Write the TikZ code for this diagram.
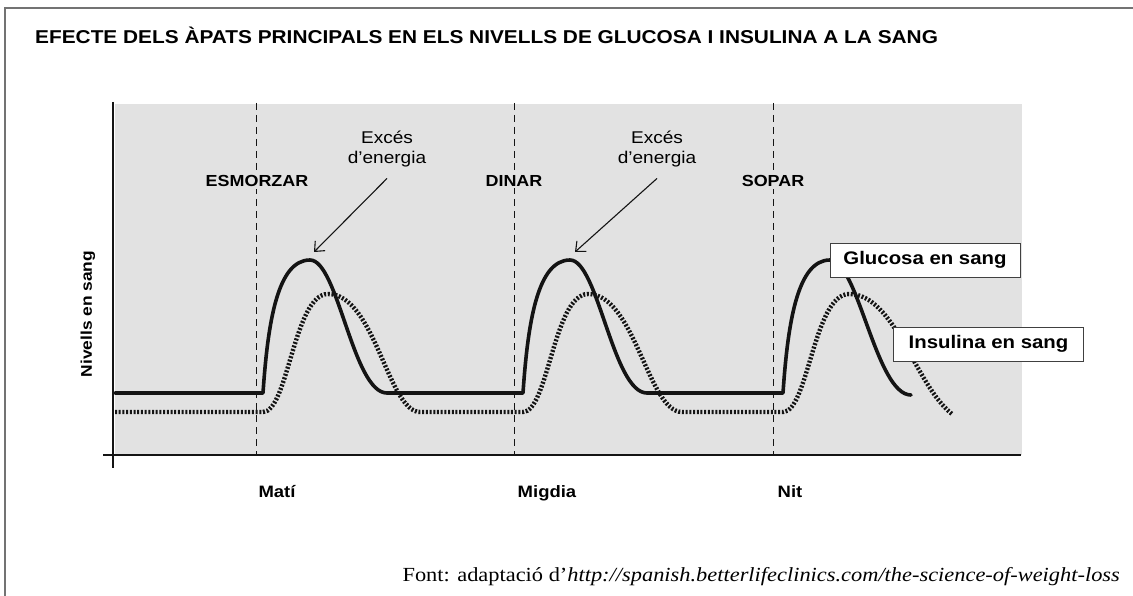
\documentclass[tikz,border=0pt]{standalone}
\usepackage{fontspec}
\setmainfont{Liberation Serif}
\newfontfamily\hv[FakeStretch=1.12]{Liberation Sans}
\newfontfamily\srcfont[FakeStretch=1.12]{Liberation Serif}
\usetikzlibrary{arrows.meta}
\definecolor{bg}{gray}{0.885}
\definecolor{ink}{gray}{0.08}
\tikzset{
  glu/.style={line width=3.6pt, ink, line join=round, line cap=round},
  ins/.style={line width=4.4pt, ink, dash pattern=on 2pt off 1.7pt},
  axisline/.style={line width=2.2pt, ink},
  mealline/.style={line width=0.9pt, ink, dash pattern=on 7pt off 5pt},
  meal/.style={font=\hv\bfseries\fontsize{16}{18}\selectfont, fill=bg, inner sep=1.5pt, anchor=base},
  note/.style={font=\hv\fontsize{17}{20}\selectfont, align=center, inner sep=0pt},
  arr/.style={line width=1.1pt, ink, -{Straight Barb[length=8pt,width=14pt,line width=1.1pt]}},
  legend/.style={font=\hv\bfseries\fontsize{18.2}{20}\selectfont, fill=white, draw=black!75, line width=0.9pt, minimum width=190pt, minimum height=34pt, inner sep=0pt},
  tick/.style={font=\hv\bfseries\fontsize{16.5}{18}\selectfont, anchor=base},
}
\begin{document}
\begin{tikzpicture}[x=1pt,y=-1pt]
\useasboundingbox (0,0) rectangle (1133,596);
% frame
\draw[black!55, line width=1.4pt] (5,596) -- (5,8) -- (1133,8);
% title
\node[anchor=base west, inner sep=0pt, font=\hv\bfseries\fontsize{18.6}{20}\selectfont] (title) at (35,44)
  {EFECTE DELS ÀPATS PRINCIPALS EN ELS NIVELLS DE GLUCOSA I INSULINA A LA SANG};
% plot area
\fill[bg] (115,104) rectangle (1022,455);
% meal lines
\draw[mealline] (256,103) -- (256,455);
\draw[mealline] (514,103) -- (514,455);
\draw[mealline] (773,103) -- (773,455);
% axes
\draw[axisline] (113,102) -- (113,468);
\draw[axisline] (103,455) -- (1021,455);
% meal labels
\node[meal] (esm) at (257,187) {ESMORZAR};
\node[meal] (din) at (514,187) {DINAR};
\node[meal] (sop) at (773,187) {SOPAR};
% insulin curve
\draw[ins] (115,412) -- (263,412)
  .. controls (288,412) and (294,294) .. (328,294)
  .. controls (375,294) and (388,412) .. (420,412)
  -- (523,412)
  .. controls (548,412) and (554,294) .. (588,294)
  .. controls (635,294) and (648,412) .. (682,412)
  -- (783,412)
  .. controls (808,412) and (814,294) .. (849,294)
  .. controls (895,294) and (915,385) .. (952,414);
% glucose curve
\draw[glu] (115,393) -- (263,393)
  .. controls (268,320) and (278,260) .. (310,260)
  .. controls (338,260) and (353,393) .. (387,393)
  -- (523,393)
  .. controls (528,320) and (538,260) .. (570,260)
  .. controls (598,260) and (613,393) .. (647,393)
  -- (783,393)
  .. controls (788,320) and (798,260) .. (830,260)
  .. controls (858,260) and (876,395) .. (911,395);
% peaks
\coordinate (pk1) at (314,252);
\coordinate (pk2) at (575,252);
% notes
\node[note, anchor=north] (ex1) at (387,131) {Excés\\d’energia};
\node[note, anchor=north] (ex2) at (657,131) {Excés\\d’energia};
\draw[arr] ([yshift=-11pt]ex1.south) -- (pk1);
\draw[arr] ([yshift=-11pt]ex2.south) -- (pk2);
% legends
\node[legend] (lg) at (925,260) {Glucosa en sang};
\node[legend] (li) at (988.5,344) {Insulina en sang};
% y label
\node[font=\hv\bfseries\fontsize{15.5}{18}\selectfont, rotate=90] (ylab) at (88,314) {Nivells en sang};
% x ticks
\node[tick] (t1) at (277,497) {Matí};
\node[tick] (t2) at (547,497) {Migdia};
\node[tick] (t3) at (790,497) {Nit};
% source
\node[anchor=base east, inner sep=0pt, font=\srcfont\fontsize{20}{24}\selectfont] (src) at (1120,581)
  {Font: adaptació d’\textit{http://spanish.betterlifeclinics.com/the-science-of-weight-loss}};
\end{tikzpicture}
\end{document}
